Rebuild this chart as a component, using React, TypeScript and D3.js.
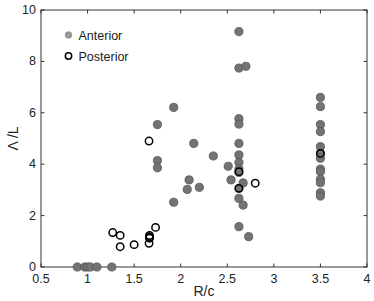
import React from "react";
import * as d3 from "d3";

const anteriorX = [0.89, 0.97, 1.0, 1.03, 1.1, 1.26, 1.75, 1.75, 1.75, 1.925, 1.925, 2.09, 2.07, 2.14, 2.2, 2.35, 2.51, 2.54,
  2.625, 2.625, 2.625, 2.625, 2.625, 2.625, 2.625, 2.625, 2.625, 2.625, 2.625, 2.625, 2.7, 2.67, 2.67, 2.73,
  3.5, 3.5, 3.5, 3.5, 3.5, 3.5, 3.5, 3.5, 3.5, 3.5, 3.5, 3.5, 3.5];
const anteriorY = [0, 0, 0, 0, 0, 0, 5.54, 4.14, 3.86, 6.21, 2.52, 3.39, 3.02, 4.81, 3.1, 4.32, 3.92, 3.39,
  9.16, 7.74, 5.77, 5.56, 4.81, 4.36, 4.07, 3.81, 3.68, 3.06, 2.67, 1.57, 7.81, 3.27, 2.41, 1.18,
  6.6, 6.24, 5.54, 5.27, 4.68, 4.42, 4.23, 3.81, 3.71, 3.41, 3.28, 2.89, 2.76];

const posteriorX = [1.27, 1.35, 1.35, 1.5, 1.66, 1.66, 1.665, 1.665, 1.665, 1.73, 2.8, 2.625, 2.625, 3.5];
const posteriorY = [1.34, 1.23, 0.79, 0.87, 4.9, 0.92, 1.23, 1.17, 1.12, 1.54, 3.26, 3.71, 3.06, 4.42];

const xTicks = [0.5, 1, 1.5, 2, 2.5, 3, 3.5, 4];
const yTicks = [0, 2, 4, 6, 8, 10];

const W = 374, H = 301;
const left = 41, right = 367, top = 10, bottom = 267;

export default function App() {
  const x = d3.scaleLinear().domain([0.5, 4]).range([left, right]);
  const y = d3.scaleLinear().domain([0, 10]).range([bottom, top]);
  const font = "'Liberation Sans', Arial, Helvetica, sans-serif";
  const axisColor = "#333";
  const tl = 3.5;
  return (
    <svg width={W} height={H} style={{ position: "absolute", left: 0, top: 0 }} fontFamily={font}>
      <rect x={0} y={0} width={W} height={H} fill="#fff" />
      <rect x={left} y={top} width={right - left} height={bottom - top} fill="none" stroke={axisColor} strokeWidth={1} />
      {xTicks.map((t) => (
        <g key={"x" + t}>
          <line x1={x(t)} x2={x(t)} y1={bottom} y2={bottom - tl} stroke={axisColor} />
          <line x1={x(t)} x2={x(t)} y1={top} y2={top + tl} stroke={axisColor} />
          <text x={x(t)} y={bottom + 15.5} textAnchor="middle" fontSize={12.5} fill="#222">{String(t)}</text>
        </g>
      ))}
      {yTicks.map((t) => (
        <g key={"y" + t}>
          <line x1={left} x2={left + tl} y1={y(t)} y2={y(t)} stroke={axisColor} />
          <line x1={right} x2={right - tl} y1={y(t)} y2={y(t)} stroke={axisColor} />
          <text x={left - 5} y={y(t) + 4} textAnchor="end" fontSize={12.5} fill="#222">{String(t)}</text>
        </g>
      ))}
      <text x={x(2.25)} y={296} textAnchor="middle" fontSize={14} fill="#222">R/c</text>
      <text transform={`translate(18,${(top + bottom) / 2}) rotate(-90)`} textAnchor="middle" fontSize={14} fill="#222">Λ /L</text>
      {anteriorX.map((v, i) => (
        <circle key={"a" + i} cx={x(v)} cy={y(anteriorY[i])} r={4.1} fill="#737373" stroke="#555" strokeWidth={0.8} />
      ))}
      {posteriorX.map((v, i) => (
        <circle key={"p" + i} cx={x(v)} cy={y(posteriorY[i])} r={3.7} fill="none" stroke="#000" strokeWidth={1.5} />
      ))}
      <circle cx={68.5} cy={35} r={3.3} fill="#999" stroke="#888" strokeWidth={0.8} />
      <text x={78.5} y={39.5} fontSize={12.5} fill="#222">Anterior</text>
      <circle cx={68.5} cy={56} r={3.2} fill="none" stroke="#000" strokeWidth={1.5} />
      <text x={78.5} y={60.5} fontSize={12.5} fill="#222">Posterior</text>
    </svg>
  );
}
